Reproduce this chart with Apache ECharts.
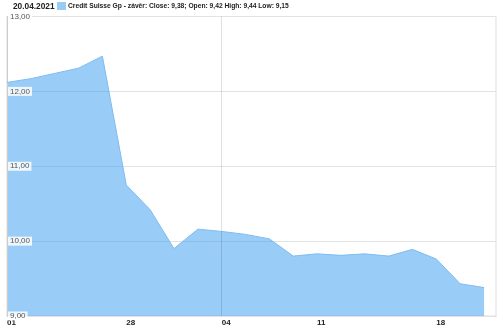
<!DOCTYPE html>
<html>
<head>
<meta charset="utf-8">
<script src="https://cdn.jsdelivr.net/npm/echarts@6/dist/echarts.min.js"></script>
<style>html,body{margin:0;padding:0;background:#fff}#c{width:500px;height:330px}</style>
</head>
<body>
<div id="c"></div>
<script>
// trading days (categories)
var dates = ['22.03','23.03','24.03','25.03','26.03','29.03','30.03','31.03','01.04',
             '06.04','07.04','08.04','09.04','12.04','13.04','14.04','15.04','16.04',
             '19.04','20.04','21.04'];
var closeValues = [12.12,12.17,12.24,12.31,12.47,10.75,10.42,9.90,10.16,
                   10.13,10.09,10.03,9.80,9.83,9.81,9.83,9.80,9.89,
                   9.76,9.43,9.38];
var tickIndex = [0,5,9,13,18];
var tickLabels = ['01','28','04','11','18'];
var monthLineIndex = [9];
var headerDate = '20.04.2021';
var seriesName = 'Credit Suisse Gp - závěr: Close: 9,38; Open: 9,42 High: 9,44 Low: 9,15';

var points = closeValues.map(function (v, i) { return [i, v]; });

var chart = echarts.init(document.getElementById('c'), null, {renderer: 'canvas'});
chart.setOption({
  animation: false,
  title: {
    text: headerDate, left: 13, top: 2.5, padding: 0,
    textStyle: {fontFamily: 'Arial, Liberation Sans', fontSize: 8.3, fontWeight: 'bold', color: '#222'}
  },
  legend: {
    left: 57, top: 2, padding: 0, itemWidth: 9, itemHeight: 8, itemGap: 4,
    icon: 'rect',
    textStyle: {fontFamily: 'Arial, Liberation Sans', fontSize: 6.7, fontWeight: 'bold', color: '#222', padding: [0,0,0,-3]},
    data: [{name: seriesName, itemStyle: {color: '#99ccf5'}}]
  },
  grid: {left: 7, right: 4, top: 16.5, bottom: 14, show: true, borderColor: '#ddd', borderWidth: 1},
  xAxis: {
    type: 'value', min: 0, max: 20.5, interval: 1,
    axisLine: {show: true, lineStyle: {color: '#ccc'}},
    axisTick: {show: false},
    splitLine: {show: false},
    axisLabel: {
      show: true, margin: 3, align: 'left', showMinLabel: true, showMaxLabel: false,
      fontFamily: 'Arial, Liberation Sans', fontSize: 8, fontWeight: 'bold', color: '#222',
      formatter: function (v) {
        var k = tickIndex.indexOf(Math.round(v));
        return k >= 0 ? tickLabels[k] : '';
      }
    }
  },
  yAxis: {
    type: 'value', min: 9, max: 13, interval: 1,
    axisLine: {show: true, lineStyle: {color: '#ccc'}},
    axisTick: {show: false},
    splitLine: {show: true, lineStyle: {color: '#e2e2e2'}},
    axisLabel: {
      inside: true, margin: 1, align: 'left', verticalAlign: 'middle',
      fontFamily: 'Arial, Liberation Sans', fontSize: 8, color: '#555',
      backgroundColor: 'rgba(255,255,255,0.85)', padding: [1, 2, 0, 2],
      formatter: function (v) { return v.toFixed(2).replace('.', ','); }
    },
    z: 3
  },
  series: [{
    name: seriesName,
    type: 'line',
    data: points,
    symbol: 'none',
    lineStyle: {color: '#7dbcef', width: 1},
    itemStyle: {color: '#99ccf5'},
    areaStyle: {color: 'rgba(51,153,237,0.5)', opacity: 1, origin: 'start'},
    markLine: {
      silent: true, symbol: 'none', label: {show: false},
      lineStyle: {color: 'rgba(0,0,0,0.12)', type: 'solid', width: 1},
      data: monthLineIndex.map(function (i) { return {xAxis: i}; })
    }
  }]
});
</script>
</body>
</html>
